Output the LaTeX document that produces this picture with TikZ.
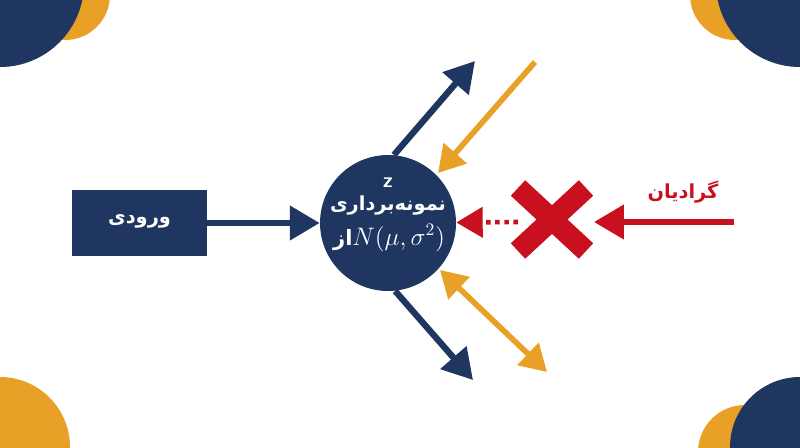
\documentclass[tikz,border=0pt]{standalone}
\usepackage[no-math]{fontspec}
\newfontfamily\arabicfont[Script=Arabic]{DejaVu Sans}
\TeXXeTstate=1
\usetikzlibrary{arrows.meta}
\definecolor{navy}{RGB}{30,54,96}
\definecolor{gold}{RGB}{232,161,38}
\definecolor{crimson}{RGB}{200,16,30}
\tikzset{
  fatarrow/.style={line width=3.6pt, -{Triangle[length=17pt,width=19pt]}},
  goldarrow/.style={gold, line width=3.2pt, -{Triangle[length=15pt,width=17pt]}},
  fatext/.style={font=\arabicfont\bfseries\fontsize{11}{13}\selectfont},
}
\begin{document}
\begin{tikzpicture}[x=0.02cm, y=-0.02cm]
    \clip (0, 0) rectangle (800, 447);
    \fill [white] (0, 0) rectangle (800, 447);
    % corner blobs
    \fill [gold] (65, -5) circle (45);
    \fill [navy] (0, -17) circle (84);
    \fill [gold] (735, -5) circle (45);
    \fill [navy] (800, -17) circle (84);
    \fill [gold] (0, 447) circle (70);
    \fill [gold] (745, 452) circle (47);
    \fill [navy] (800, 447) circle (70);

    \node [draw=none, fill=navy, minimum width=2.7cm, minimum height=1.32cm] (input) at (139.5, 223) {};
    \node [fatext, text=white] (inputtxt) at (139.5, 221) {\beginR ورودی\endR};
    \node [circle, fill=navy, minimum size=2.72cm, inner sep=0pt] (latent) at (388, 223) {};
    \node [font=\sffamily\bfseries\fontsize{12}{14}\selectfont, text=white] (ztxt) at (388, 183) {z};
    \node [fatext, text=white] (sampletxt) at (388, 206) {\beginR نمونه‌برداری\endR};
    \node [text=white, font=\fontsize{14}{16}\selectfont, inner sep=0pt] (disttxt) at (389, 238)
        {{\arabicfont\bfseries\fontsize{12}{14}\selectfont\beginR از\endR}$N(\mu, \sigma^2)$};

    \coordinate (upblue) at (475, 61);
    \coordinate (downblue) at (473, 380);
    \coordinate (upgold) at (535, 62);
    \coordinate (upgoldtip) at (438, 173);
    \coordinate (lowgolda) at (440, 270);
    \coordinate (lowgoldb) at (547, 372);

    \draw [fatarrow, navy] (input) -- (latent);
    \draw [fatarrow, navy] (latent.85) -- (upblue);
    \draw [fatarrow, navy] (latent.-84) -- (downblue);
    \draw [goldarrow] (upgold) -- (upgoldtip);
    \draw [goldarrow, {Triangle[length=15pt,width=17pt]}-{Triangle[length=15pt,width=17pt]}] (lowgolda) -- (lowgoldb);

    % gradient blocked
    \node [fatext, text=crimson] (grad) at (683, 192) {\beginR گرادیان\endR};
    \coordinate (gradstart) at (734, 222);
    \coordinate (crossright) at (594, 222);
    \coordinate (crossleft) at (518, 222);
    \draw [crimson, line width=12pt] (518, 188) -- (586, 251);
    \draw [crimson, line width=12pt] (586, 188) -- (518, 251);
    \draw [crimson, line width=3.4pt, -{Triangle[length=17pt,width=19pt]}] (gradstart) -- (crossright);
    \draw [crimson, line width=2.6pt, dash pattern=on 2.6pt off 2.6pt, -{Triangle[length=15pt,width=17pt]}] (crossleft) -- (latent);
\end{tikzpicture}
\end{document}
